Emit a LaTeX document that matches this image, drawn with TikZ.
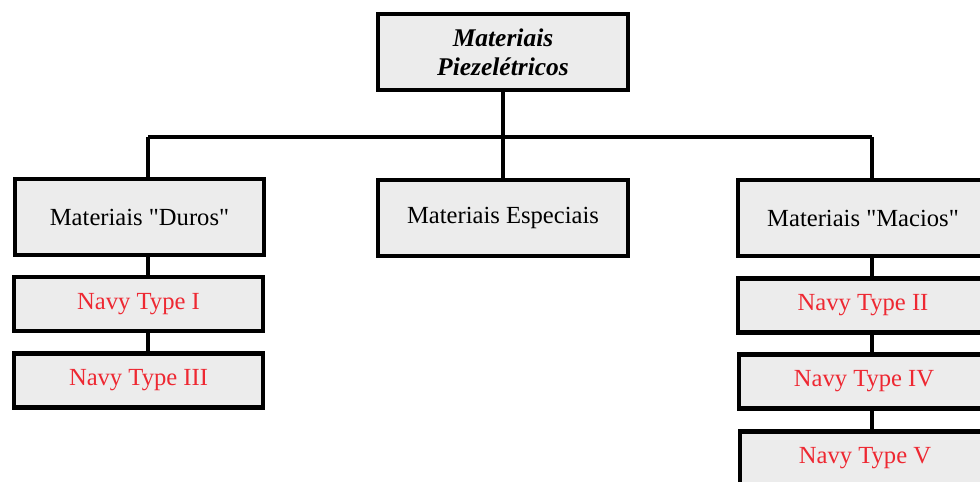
\documentclass[tikz,border=0pt]{standalone}
\usepackage{fontspec}
\setmainfont{Liberation Serif}[Ligatures=TeXOff]
\definecolor{boxfill}{RGB}{236,236,236}
\definecolor{navyred}{RGB}{238,40,50}
\tikzset{
  bigbox/.style={draw=black, line width=2.3pt, fill=boxfill, minimum width=5cm, minimum height=1.52cm, inner sep=0pt, font=\fontsize{14}{16.5}\selectfont, align=center},
  smallbox/.style={draw=black, line width=2.3pt, fill=boxfill, minimum width=5cm, minimum height=1.08cm, inner sep=0pt, font=\fontsize{14}{16.5}\selectfont, text=navyred},
  link/.style={line width=1.8pt}
}
\begin{document}
\begin{tikzpicture}[x=0.02cm,y=-0.02cm]
\useasboundingbox (0,0) rectangle (980,481);
\node[bigbox, font=\fontsize{14.5}{16.4}\selectfont\bfseries\itshape] (top) at (503,52) {Materiais\\Piezelétricos};
\node[bigbox] (dur) at (139.5,217) {Materiais "Duros"};
\node[bigbox] (esp) at (503,218) {Materiais Especiais};
\node[bigbox] (mac) at (863,218) {Materiais "Macios"};
\node[smallbox] (n1) at (138.5,304) {Navy Type I};
\node[smallbox] (n3) at (138.5,380.5) {Navy Type III};
\node[smallbox] (n2) at (863,305.5) {Navy Type II};
\node[smallbox] (n4) at (864,381.5) {Navy Type IV};
\node[smallbox] (n5) at (865,458.5) {Navy Type V};
\coordinate (busL) at (148,137);
\coordinate (busR) at (872,137);
\coordinate (colL) at (148,0);
\coordinate (colR) at (872,0);
\draw[link] (busL) -- (busR);
\draw[link] (top.south) -- (top.south |- busL);
\draw[link] (busL) -- (busL |- dur.north);
\draw[link] (esp.north) -- (esp.north |- busL);
\draw[link] (busR) -- (busR |- mac.north);
\draw[link] (colL |- dur.south) -- (colL |- n1.north);
\draw[link] (colL |- n1.south) -- (colL |- n3.north);
\draw[link] (colR |- mac.south) -- (colR |- n2.north);
\draw[link] (colR |- n2.south) -- (colR |- n4.north);
\draw[link] (colR |- n4.south) -- (colR |- n5.north);
\end{tikzpicture}
\end{document}
